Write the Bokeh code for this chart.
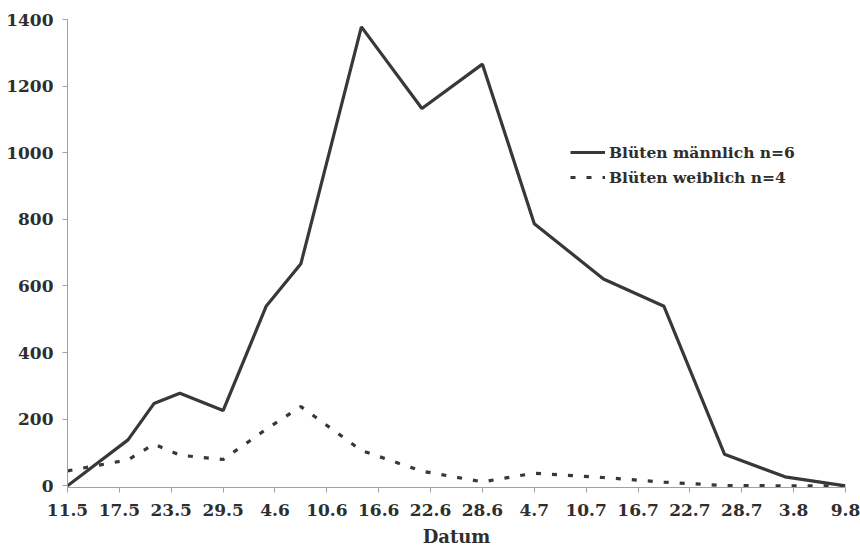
import pandas as pd
from bokeh.plotting import figure
from bokeh.models import Range1d, FixedTicker, Legend, LegendItem
from bokeh.embed import file_html
from bokeh.resources import INLINE

# --- data ---
dates = ["11.5", "18.5", "21.5", "24.5", "29.5", "3.6", "7.6", "14.6",
         "21.6", "28.6", "4.7", "12.7", "19.7", "26.7", "2.8", "9.8"]
maennlich = [0, 138, 247, 278, 226, 540, 667, 1378, 1133, 1266, 787, 621, 539, 95, 27, 0]
weiblich = [45, 78, 125, 92, 79, 170, 238, 106, 44, 12, 38, 25, 11, 1, 0, 0]
tick_labels = ["11.5", "17.5", "23.5", "29.5", "4.6", "10.6", "16.6", "22.6",
               "28.6", "4.7", "10.7", "16.7", "22.7", "28.7", "3.8", "9.8"]
y_ticks = [0, 200, 400, 600, 800, 1000, 1200, 1400]
label_m = "Blüten männlich n=6"
label_w = "Blüten weiblich n=4"


def to_day(s):
    d, m = s.split(".")
    return pd.Timestamp(year=2000, month=int(m), day=int(d))


t0 = to_day(dates[0])
x = [(to_day(s) - t0).days for s in dates]
xt = [(to_day(s) - t0).days for s in tick_labels]

FONT = "DejaVu Serif"
TXT = "#2e2e2e"

p = figure(width=860, height=549, output_backend="svg", toolbar_location=None,
           x_range=Range1d(xt[0], xt[-1]), y_range=Range1d(-5, 1400),
           min_border_left=67, min_border_right=15, min_border_top=19,
           min_border_bottom=62)
p.outline_line_color = None
p.xgrid.visible = False
p.ygrid.visible = False
p.background_fill_color = "white"
p.border_fill_color = "white"

r1 = p.line(x, maennlich, line_color="#383838", line_width=3.2)
r2 = p.line(x, weiblich, line_color="#383838", line_width=3.2, line_dash="5 11")

p.xaxis.ticker = FixedTicker(ticks=xt)
p.xaxis.major_label_overrides = {t: l for t, l in zip(xt, tick_labels)}
p.yaxis.ticker = FixedTicker(ticks=y_ticks)
p.xaxis.axis_label = "Datum"

for ax in (p.xaxis, p.yaxis):
    ax.axis_line_color = "#a0a0a0"
    ax.axis_line_width = 1
    ax.major_tick_line_color = "#a0a0a0"
    ax.major_tick_out = 5
    ax.major_tick_in = 0
    ax.minor_tick_line_color = None
    ax.major_label_text_font = FONT
    ax.major_label_text_font_style = "bold"
    ax.major_label_text_font_size = "17px"
    ax.major_label_text_color = TXT

p.yaxis.major_label_standoff = 9
p.xaxis.major_label_standoff = 11
p.xaxis.major_label_text_line_height = 1.0
p.xaxis.axis_label_text_font = FONT
p.xaxis.axis_label_text_font_style = "bold"
p.xaxis.axis_label_text_font_size = "18px"
p.xaxis.axis_label_text_line_height = 1.0
p.xaxis.axis_label_text_color = TXT
p.xaxis.axis_label_standoff = 7

legend = Legend(items=[LegendItem(label=label_m, renderers=[r1]),
                       LegendItem(label=label_w, renderers=[r2])],
                location=(503, 300))
legend.padding = 0
legend.margin = 0
legend.border_line_color = None
legend.background_fill_alpha = 0
legend.glyph_width = 35
legend.glyph_height = 20
legend.label_height = 20
legend.spacing = 5
legend.label_standoff = 4
legend.label_text_font = FONT
legend.label_text_font_style = "bold"
legend.label_text_font_size = "15.5px"
legend.label_text_color = TXT
p.add_layout(legend)

open("out.html", "w").write(file_html(p, INLINE))
